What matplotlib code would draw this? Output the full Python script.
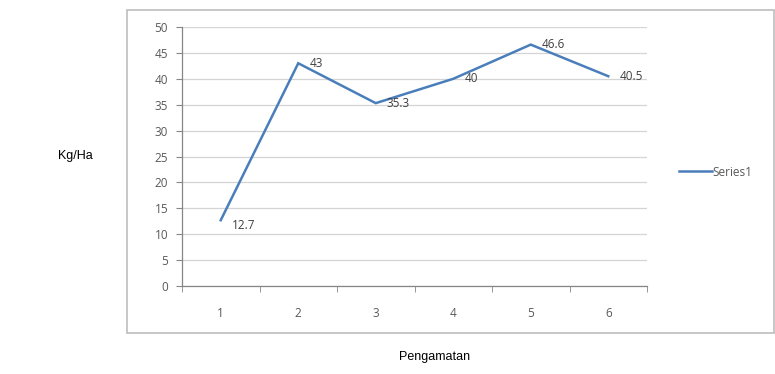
import matplotlib
matplotlib.use("Agg")
import matplotlib.pyplot as plt
from matplotlib.patches import Rectangle

# observation data (yield per observation)
pengamatan = [1, 2, 3, 4, 5, 6]
hasil = [12.7, 43, 35.3, 40, 46.6, 40.5]
label_hasil = ["12.7", "43", "35.3", "40", "46.6", "40.5"]
y_ticks = [0, 5, 10, 15, 20, 25, 30, 35, 40, 45, 50]

line_color = "#4a7ebb"
tick_color = "#595959"
axis_color = "#868686"

fig = plt.figure(figsize=(7.75, 3.74), dpi=100)

# outer chart frame
frame = Rectangle((127 / 775, 1 - 333 / 374), 0.999 - 127 / 775, (333 - 10) / 374,
                  transform=fig.transFigure, fill=False, edgecolor="#bdbdbd",
                  linewidth=1.2, zorder=0)
fig.patches.append(frame)

ax = fig.add_axes([182 / 775, 1 - 286 / 374, (647 - 182) / 775, (286 - 27) / 374])
ax.plot(pengamatan, hasil, color=line_color, linewidth=1.8, label="Series1",
        solid_joinstyle="miter", zorder=3)

for x, y, txt in zip(pengamatan, hasil, label_hasil):
    dy = -4 if y < 20 else 0
    ax.annotate(txt, (x, y), xytext=(8, dy), textcoords="offset points",
                ha="left", va="center", fontsize=8.5, color="#404040",
                family="Open Sans")

ax.set_xlim(0.5, 6.5)
ax.set_ylim(0, 50)
ax.set_yticks(y_ticks)
ax.set_xticks(pengamatan)
ax.set_xticks([0.5, 1.5, 2.5, 3.5, 4.5, 5.5, 6.5], minor=True)
ax.tick_params(axis="x", which="major", length=0, pad=15, labelsize=8.5,
               labelcolor=tick_color)
ax.tick_params(axis="x", which="minor", length=4, direction="out", color=axis_color)
ax.tick_params(axis="y", which="major", length=4, direction="out", color=axis_color,
               labelsize=8.5, labelcolor=tick_color, pad=6)
for lbl in ax.get_xticklabels() + ax.get_yticklabels():
    lbl.set_family("Open Sans")

ax.grid(axis="y", color="#d4d4d4", linewidth=0.9)
ax.set_axisbelow(True)
for side in ("top", "right"):
    ax.spines[side].set_visible(False)
for side in ("left", "bottom"):
    ax.spines[side].set_color(axis_color)
    ax.spines[side].set_linewidth(0.9)

leg = ax.legend(loc="center left", bbox_to_anchor=(1.045, 0.44), frameon=False,
                handlelength=2.8, handletextpad=0.1,
                prop={"family": "Open Sans", "size": 8.5})
for t in leg.get_texts():
    t.set_color(tick_color)

fig.text(75 / 775, 1 - 156 / 374, "Kg/Ha", ha="center", va="center",
         fontsize=9, family="Liberation Sans")
fig.text(435 / 775, 1 - 357 / 374, "Pengamatan", ha="center", va="center",
         fontsize=9, family="Liberation Sans")

fig.savefig("out.png", dpi=100)
